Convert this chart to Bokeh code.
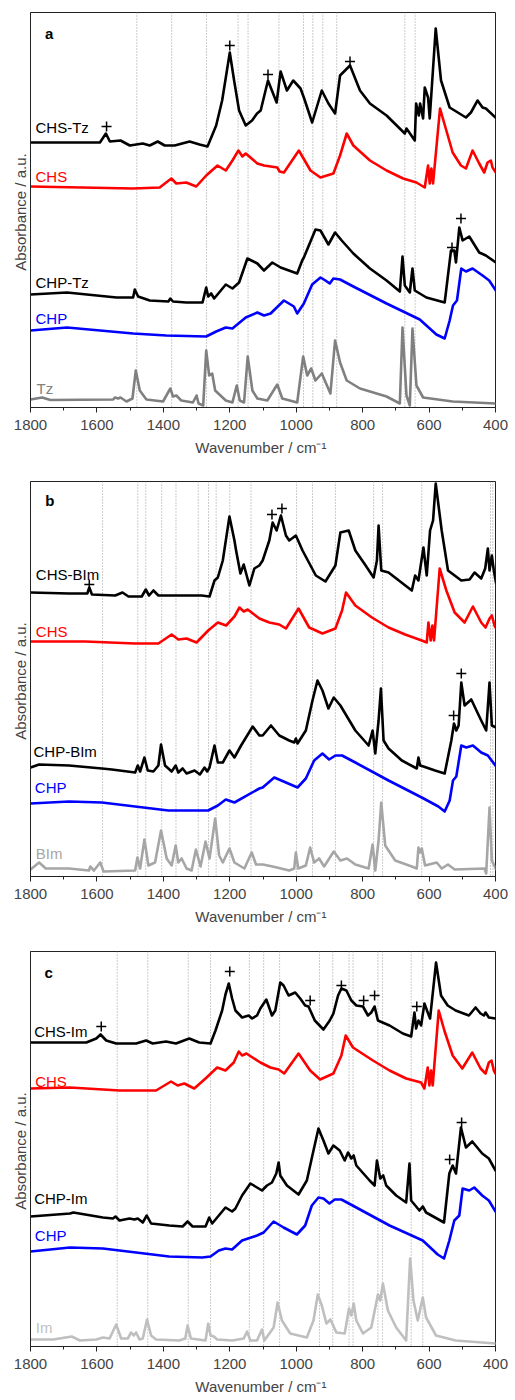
from bokeh.plotting import figure
from bokeh.layouts import column
from bokeh.models import Range1d, FixedTicker, Span, Label
from bokeh.embed import file_html
from bokeh.resources import INLINE

WN_MAJOR = [1800, 1600, 1400, 1200, 1000, 800, 600, 400]
WN_MINOR = [1700, 1500, 1300, 1100, 900, 700, 500]
X_LABEL = "Wavenumber  / cm\u207b\u00b9"
Y_LABEL = "Absorbance  / a.u."

# ---------------- panel a (wavenumber, absorbance a.u.) ----------------
a_chstz = [(1800,265),(1591,265),(1573,274),(1561,266),(1529,267),(1501,262),(1462,264),(1441,262),(1417,266),(1396,262),(1366,262),(1321,266),(1291,263),(1267,261),(1241,282),(1223,307),(1211,332),(1200,355),(1187,327),(1172,297),(1152,282),(1133,287),(1118,294),(1107,297),(1085,327),(1059,305),(1047,336),(1028,317),(1009,327),(987,319),(977,310),(952,285),(923,317),(903,304),(883,294),(868,332),(838,342),(808,317),(778,304),(728,292),(673,274),(668,279),(643,267),(639,304),(631,292),(627,304),(618,289),(613,320),(603,310),(598,289),(580,379),(564,327),(538,300),(489,290),(474,295),(454,307),(439,300),(429,299),(400,290)]
a_chs = [(1800,221),(1492,219),(1411,220),(1376,229),(1361,224),(1331,225),(1301,221),(1271,232),(1237,242),(1212,237),(1192,247),(1174,257),(1162,251),(1152,254),(1117,244),(1097,242),(1057,240),(1050,236),(1037,235),(992,257),(957,237),(927,230),(888,234),(868,252),(848,274),(828,262),(778,247),(728,237),(678,229),(638,225),(613,220),(603,242),(598,224),(593,239),(588,224),(567,299),(548,277),(529,255),(504,242),(489,239),(469,257),(449,244),(434,235),(424,245),(414,247),(409,240),(399,235)]
a_chptz = [(1800,113),(1690,115),(1541,110),(1491,110),(1486,118),(1476,111),(1441,107),(1385,106),(1379,109),(1371,106),(1331,105),(1282,105),(1271,120),(1265,111),(1256,114),(1247,109),(1212,123),(1192,119),(1172,125),(1147,149),(1117,144),(1097,137),(1072,145),(1047,140),(997,134),(982,147),(977,150),(942,178),(927,177),(903,163),(883,175),(863,167),(828,154),(778,139),(728,127),(688,116),(680,151),(673,122),(658,115),(650,139),(643,117),(608,110),(553,105),(534,157),(524,157),(519,145),(509,180),(499,167),(479,171),(449,155),(429,152),(399,145)]
a_chp = [(1800,77),(1690,80),(1491,74),(1391,72),(1271,71),(1241,76),(1212,80),(1192,79),(1152,90),(1117,95),(1097,92),(1077,94),(1037,107),(1007,101),(997,94),(977,104),(952,123),(927,130),(912,127),(899,124),(888,129),(868,128),(828,121),(728,104),(628,88),(578,73),(553,69),(538,87),(528,102),(516,107),(503,139),(489,136),(469,139),(439,132),(419,127),(399,117)]
a_tz = [(1800,8),(1765,10),(1740,7.5),(1551,8),(1546,10),(1536,9),(1529,10),(1511,6),(1493,9),(1483,37),(1471,17),(1451,8),(1401,6),(1379,19),(1371,11),(1361,12),(1346,7),(1311,5),(1300,12),(1294,4),(1280,2),(1271,57),(1262,32),(1253,34),(1244,17),(1212,7),(1192,5),(1179,22),(1170,7),(1157,5),(1146,51),(1132,17),(1117,9),(1087,7),(1057,23),(1042,9),(997,5),(979,51),(967,32),(955,39),(942,27),(923,34),(897,14),(883,67),(868,45),(848,27),(808,19),(728,11),(688,4),(680,80),(668,12),(658,2),(650,79),(638,22),(618,10),(529,6),(399,4)]
a_lines = [1480,1375,1270,1175,1145,1052,978,950,920,878,673,642]
a_plus = [(1571,281),(1200,362),(1085,333),(838,346),(531,160),(504,189)]

# ---------------- panel b ----------------
b_chsbim = [(1800,284),(1684,283),(1629,283),(1623,289),(1615,282),(1545,281),(1523,284),(1505,280),(1465,280),(1453,287),(1443,281),(1430,286),(1415,281),(1355,281),(1285,281),(1261,280),(1246,296),(1236,299),(1221,316),(1201,360),(1186,336),(1181,326),(1168,303),(1158,312),(1141,291),(1126,308),(1111,311),(1101,316),(1081,336),(1071,354),(1059,346),(1046,361),(1031,341),(1021,336),(1001,341),(981,326),(941,301),(912,295),(882,311),(867,344),(842,346),(822,326),(791,311),(767,299),(757,316),(752,351),(744,306),(722,304),(652,286),(642,301),(632,296),(617,329),(607,301),(597,346),(588,356),(580,393),(562,346),(543,306),(503,296),(478,297),(463,304),(443,298),(431,308),(423,328),(418,306),(411,321),(405,306),(398,293)]
b_chs = [(1800,235),(1635,235),(1485,233),(1415,233),(1375,242),(1355,237),(1330,238),(1300,234),(1265,246),(1236,254),(1211,251),(1186,260),(1171,269),(1158,265),(1146,267),(1111,258),(1081,254),(1051,252),(1031,248),(993,268),(961,249),(921,243),(882,248),(862,266),(850,284),(822,271),(772,259),(722,249),(672,242),(622,236),(607,234),(602,254),(595,236),(590,251),(585,236),(568,308),(548,286),(523,264),(493,254),(468,270),(443,254),(430,249),(418,258),(411,261),(403,251),(398,248)]
b_chpbim = [(1800,109),(1774,112),(1684,111),(1585,108),(1555,107),(1485,104),(1477,111),(1470,105),(1457,119),(1447,106),(1430,105),(1415,111),(1407,132),(1395,111),(1375,105),(1363,111),(1355,104),(1342,108),(1330,103),(1306,106),(1290,102),(1276,109),(1268,105),(1261,109),(1246,131),(1236,114),(1221,114),(1201,126),(1186,119),(1166,131),(1131,150),(1111,141),(1101,141),(1076,151),(1051,141),(1021,136),(1006,134),(1001,138),(996,133),(971,146),(951,176),(936,196),(921,186),(903,168),(887,179),(867,171),(822,146),(782,131),(770,146),(762,123),(752,156),(745,188),(737,136),(722,128),(682,116),(637,108),(632,119),(627,111),(617,110),(582,106),(553,103),(533,136),(525,153),(518,146),(511,151),(503,194),(493,171),(473,177),(443,156),(428,146),(418,194),(411,151),(398,149)]
b_chp = [(1800,73),(1684,75),(1585,74),(1485,70),(1385,66),(1265,66),(1236,71),(1212,77),(1186,74),(1111,88),(1101,89),(1066,99),(1031,94),(996,89),(971,98),(946,116),(921,123),(901,117),(882,121),(862,121),(822,114),(722,96),(622,79),(572,70),(553,65),(538,76),(528,96),(518,100),(503,131),(488,129),(468,131),(443,124),(423,121),(398,110)]
b_bim = [(1800,7),(1774,14),(1754,8),(1684,8),(1624,6),(1620,10),(1609,6),(1590,14),(1580,5),(1485,6),(1478,19),(1470,8),(1457,37),(1445,11),(1425,14),(1407,46),(1390,18),(1375,11),(1363,31),(1355,14),(1345,18),(1330,8),(1315,6),(1302,27),(1288,10),(1273,35),(1261,18),(1244,58),(1232,21),(1221,14),(1201,28),(1186,14),(1156,8),(1134,24),(1121,12),(1100,12),(1071,10),(1021,6),(1006,8),(1001,24),(994,8),(971,11),(958,29),(946,14),(931,18),(916,10),(887,25),(867,16),(847,18),(822,12),(782,8),(770,32),(762,6),(752,36),(744,74),(732,31),(702,16),(652,10),(637,8),(632,29),(627,24),(622,28),(612,11),(577,14),(562,8),(543,12),(523,7),(433,8),(428,3),(418,69),(411,16),(398,7)]
b_lines = [1583,1477,1453,1405,1362,1295,1264,1241,1200,1136,999,951,882,767,740,622,415,408]
b_plus = [(1623,292),(1073,362),(1043,368),(526,161),(503,203)]

# ---------------- panel c ----------------
c_chsim = [(1800,304),(1632,304),(1602,308),(1589,312),(1572,306),(1542,303),(1482,303),(1452,306),(1432,303),(1392,305),(1362,303),(1322,308),(1292,304),(1258,303),(1243,316),(1223,336),(1213,352),(1203,363),(1193,348),(1183,336),(1163,329),(1143,331),(1133,328),(1118,331),(1108,338),(1090,347),(1073,331),(1063,336),(1048,364),(1038,361),(1023,351),(1003,354),(988,348),(973,341),(963,340),(944,326),(918,317),(899,326),(888,333),(874,351),(864,358),(849,356),(834,346),(819,341),(799,340),(784,331),(774,334),(764,340),(754,326),(719,321),(679,313),(654,310),(644,334),(639,318),(632,326),(624,321),(614,343),(604,334),(597,328),(579,384),(564,351),(544,341),(520,336),(480,331),(460,339),(445,333),(435,331),(430,334),(420,329),(400,328)]
c_chs = [(1800,258),(1681,259),(1532,256),(1422,256),(1377,265),(1357,261),(1337,263),(1307,258),(1273,268),(1238,279),(1213,276),(1188,284),(1173,295),(1163,291),(1150,293),(1108,284),(1078,279),(1053,277),(1036,273),(993,293),(958,276),(928,267),(888,273),(864,291),(851,311),(829,299),(769,286),(719,276),(669,268),(624,264),(614,258),(604,279),(599,261),(594,276),(589,261),(571,336),(554,316),(529,291),(500,278),(470,294),(445,278),(430,273),(420,284),(412,286),(405,276),(400,273)]
c_chpim = [(1800,130),(1681,133),(1671,134),(1582,129),(1552,128),(1544,130),(1532,126),(1502,128),(1487,127),(1477,128),(1462,124),(1450,131),(1437,123),(1382,121),(1342,120),(1327,125),(1312,120),(1273,120),(1262,129),(1253,123),(1233,131),(1213,139),(1193,135),(1183,138),(1163,151),(1138,163),(1123,160),(1103,156),(1088,161),(1073,164),(1060,173),(1053,184),(1048,171),(1028,161),(993,152),(968,166),(948,196),(933,218),(918,206),(903,193),(888,201),(869,196),(854,186),(844,194),(834,188),(827,191),(819,181),(779,166),(764,161),(757,186),(747,168),(738,171),(729,161),(699,151),(669,144),(659,183),(654,146),(629,136),(619,140),(609,134),(555,124),(539,173),(529,181),(519,173),(504,219),(489,199),(470,205),(440,193),(420,188),(400,176)]
c_chp = [(1800,95),(1681,99),(1582,98),(1482,94),(1383,90),(1283,89),(1258,90),(1233,96),(1213,98),(1193,97),(1163,106),(1118,111),(1098,114),(1068,125),(1038,119),(998,112),(973,121),(953,141),(933,149),(918,148),(900,143),(884,147),(864,147),(819,139),(719,121),(619,106),(574,92),(555,88),(539,106),(524,126),(509,131),(499,158),(479,156),(464,159),(440,151),(420,146),(400,135)]
c_im = [(1800,7),(1731,7),(1676,10),(1651,6),(1602,7),(1582,9),(1562,8),(1542,22),(1527,8),(1507,8),(1497,14),(1489,11),(1482,14),(1472,7),(1462,8),(1449,27),(1437,11),(1422,7),(1352,6),(1334,8),(1327,21),(1317,8),(1273,6),(1265,23),(1258,11),(1248,10),(1238,7),(1193,6),(1158,8),(1148,15),(1138,6),(1118,6),(1103,17),(1096,6),(1068,19),(1056,44),(1043,26),(1018,13),(968,9),(948,26),(935,52),(923,41),(909,23),(897,27),(879,14),(854,13),(841,38),(834,31),(827,43),(819,26),(799,13),(774,19),(754,52),(747,46),(739,63),(724,36),(699,19),(669,6),(657,88),(647,46),(634,26),(619,49),(609,29),(579,11),(520,6),(400,3)]
c_lines = [1539,1447,1325,1258,1141,1098,1050,930,890,841,829,754,740,654,619]
c_plus = [(1587,320),(1200,375),(958,346),(864,361),(797,346),(764,351),(637,340),(538,187),(502,224)]

BLACK = "#000000"
RED = "#ff0000"
BLUE = "#0000ff"
FONT = "Liberation Sans"


def make_panel(height, top, bottom, left, right, letter, curves, names, lines, plus):
    p = figure(width=515, height=height, x_range=Range1d(1800, 400), y_range=Range1d(0, 395),
               output_backend="svg", toolbar_location=None,
               min_border_top=top, min_border_bottom=bottom,
               min_border_left=left, min_border_right=right)
    p.xgrid.visible = False
    p.ygrid.visible = False
    p.outline_line_color = "#222222"
    p.outline_line_width = 1
    p.background_fill_color = "white"
    p.border_fill_color = "white"

    xa = p.xaxis[0]
    xa.ticker = FixedTicker(ticks=WN_MAJOR, minor_ticks=WN_MINOR)
    xa.axis_label = X_LABEL
    xa.axis_label_text_font = FONT
    xa.axis_label_text_font_style = "normal"
    xa.axis_label_text_font_size = "15px"
    xa.axis_label_standoff = 6
    xa.major_label_text_font = FONT
    xa.major_label_text_font_size = "15px"
    xa.major_label_standoff = 7
    xa.major_tick_in = 0
    xa.major_tick_out = 5
    xa.minor_tick_in = 0
    xa.minor_tick_out = 3
    xa.axis_line_color = "#222222"
    xa.major_tick_line_color = "#222222"
    xa.minor_tick_line_color = "#222222"

    ya = p.yaxis[0]
    ya.ticker = FixedTicker(ticks=[])
    ya.axis_label = Y_LABEL
    ya.axis_label_text_font = FONT
    ya.axis_label_text_font_style = "normal"
    ya.axis_label_text_font_size = "15px"
    ya.axis_label_standoff = 2
    ya.major_tick_out = 0
    ya.major_tick_in = 0
    ya.minor_tick_out = 0
    ya.major_label_standoff = 0
    ya.axis_line_color = "#222222"

    for w in lines:
        p.add_layout(Span(location=w, dimension="height", line_color="#9a9a9a",
                          line_dash="1 2", line_width=1, level="underlay"))

    for data, color in curves:
        xs = [d[0] for d in data]
        ys = [d[1] for d in data]
        p.line(xs, ys, line_color=color, line_width=2.6, line_join="round", line_cap="round")

    p.scatter([d[0] for d in plus], [d[1] for d in plus], marker="cross", size=10,
              line_color="black", line_width=1.5)

    for (txt, color, xx, yy) in names:
        p.add_layout(Label(x=xx, y=yy, text=txt, text_color=color, text_font=FONT,
                           text_font_size="15px", text_baseline="middle", text_align="left"))

    p.add_layout(Label(x=letter[1], y=letter[2], text=letter[0], text_color="black",
                       text_font=FONT, text_font_size="15px", text_font_style="bold",
                       text_baseline="middle", text_align="center"))
    return p


pa = make_panel(470, 12, 63, 30, 17, ("a", 1744, 374),
                [(a_tz, "#808080"), (a_chp, BLUE), (a_chptz, BLACK), (a_chs, RED), (a_chstz, BLACK)],
                [("CHS-Tz", BLACK, 1785, 280), ("CHS", RED, 1785, 231), ("CHP-Tz", BLACK, 1785, 125),
                 ("CHP", BLUE, 1785, 89), ("Tz", "#808080", 1782, 19)],
                a_lines, a_plus)

pb = make_panel(470, 11, 64, 28, 19, ("b", 1742, 376),
                [(b_bim, "#a6a6a6"), (b_chp, BLUE), (b_chpbim, BLACK), (b_chs, RED), (b_chsbim, BLACK)],
                [("CHS-BIm", BLACK, 1784, 302), ("CHS", RED, 1784, 245), ("CHP-BIm", BLACK, 1791, 125),
                 ("CHP", BLUE, 1787, 89), ("BIm", "#a6a6a6", 1784, 23)],
                b_lines, b_plus)

pc = make_panel(460, 11, 54, 27, 20, ("c", 1745, 374),
                [(c_im, "#bfbfbf"), (c_chp, BLUE), (c_chpim, BLACK), (c_chs, RED), (c_chsim, BLACK)],
                [("CHS-Im", BLACK, 1789, 315), ("CHS", RED, 1786, 265), ("CHP-Im", BLACK, 1789, 148),
                 ("CHP", BLUE, 1787, 111), ("Im", "#bfbfbf", 1784, 19)],
                c_lines, c_plus)

layout = column(pa, pb, pc, spacing=0)
open("out.html", "w").write(file_html(layout, INLINE))
